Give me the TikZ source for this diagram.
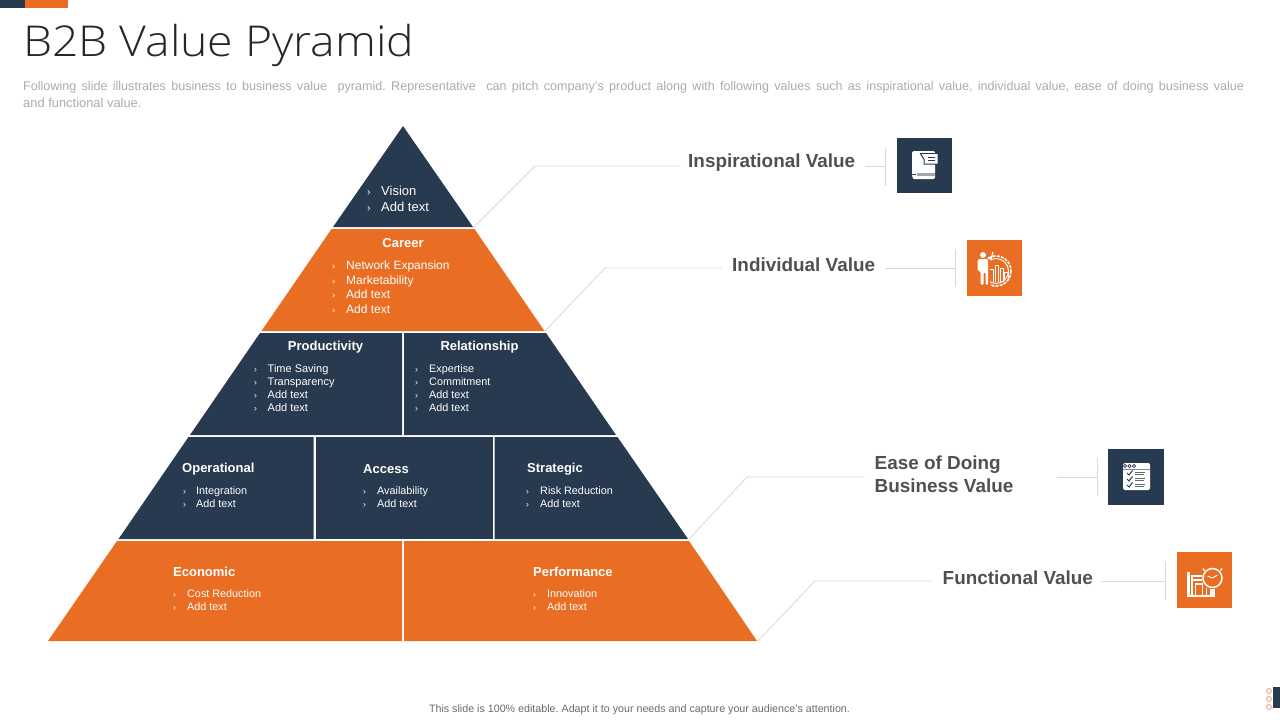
\documentclass[tikz,border=0pt]{standalone}
\usepackage{fontspec}
\setmainfont{Liberation Sans}
\newfontfamily\titlefont{Open Sans Light}
\definecolor{navy}{HTML}{283A4F}
\definecolor{orng}{HTML}{E96D22}
\definecolor{leader}{HTML}{D9D9D9}
\definecolor{subgrey}{HTML}{ABABAB}
\definecolor{valgrey}{HTML}{505050}
\tikzset{
 leaderline/.style={draw=leader,line width=0.8pt},
 head/.style={text=white,font=\fontsize{13}{15}\selectfont\bfseries,inner sep=0pt},
 bul/.style={text=white,inner sep=0pt,anchor=north west,align=left},
 valtext/.style={text=valgrey,font=\fontsize{18.9}{23}\selectfont\bfseries,inner sep=0pt,align=left},
 iconbox/.style={inner sep=0pt,minimum width=55.5pt,minimum height=55.5pt},
 icl/.style={draw=white,line width=1.1pt,fill=none}
}
\newcommand{\blist}[5]{% name, x, y, size, text
 \node[bul,font=\fontsize{#4}{#4}\selectfont] (#1) at (#2,#3) {#5};}
\newcommand{\itm}[2]{\makebox[#1pt][l]{\scalebox{.8}{›}}#2}
\begin{document}
\frenchspacing
\begin{tikzpicture}[x=1pt,y=-1pt]
\useasboundingbox (0,0) rectangle (1280,720);
\fill[navy] (0,0) rectangle (25,8);
\fill[orng] (25,0) rectangle (68,8);
\node[anchor=west,inner sep=0pt,text=black!85] (title) at (23,45) {\scalebox{1.09}[1]{\titlefont\fontsize{42.5}{48}\selectfont B2B Value Pyramid}};
\node[anchor=west,inner sep=0pt,text=subgrey,font=\fontsize{12.6}{14}\selectfont] (sub1) at (23,87) {\makebox[1221pt][s]{Following slide illustrates business to business value~ pyramid. Representative~ can pitch company’s product along with following values such as inspirational value, individual value, ease of doing business value}};
\node[anchor=west,inner sep=0pt,text=subgrey,font=\fontsize{12.9}{14}\selectfont] (sub2) at (23,102.5) {and functional value.};
% tiers
\fill[navy] (403,126) -- (473,227) -- (333,227) -- cycle;
\fill[orng] (331.5,229) -- (474.5,229) -- (544.5,331) -- (261.5,331) -- cycle;
\fill[navy] (260,333) -- (402,333) -- (402,435) -- (190,435) -- cycle;
\fill[navy] (404,333) -- (546,333) -- (616,435) -- (404,435) -- cycle;
\fill[navy] (188.5,437) -- (313.5,437) -- (313.5,539) -- (118.5,539) -- cycle;
\fill[navy] (315.5,437) -- (492.5,437) -- (492.5,539) -- (315.5,539) -- cycle;
\fill[navy] (494.5,437) -- (617.5,437) -- (688,539) -- (494.5,539) -- cycle;
\fill[orng] (117,541) -- (402,541) -- (402,641) -- (48,641) -- cycle;
\fill[orng] (404,541) -- (689,541) -- (757,641) -- (404,641) -- cycle;
% tier text
\blist{vis}{367}{185.5}{13}{\itm{14}{Vision}\\[3.2pt]\itm{14}{Add text}}
\node[head] (career) at (403,243) {Career};
\blist{car}{332}{261}{12}{\itm{14}{Network Expansion}\\[2.4pt]\itm{14}{Marketability}\\[2.4pt]\itm{14}{Add text}\\[2.6pt]\itm{14}{Add text}}
\node[head] (prod) at (325.5,347) {Productivity};
\blist{pr}{254}{364}{11}{\itm{13.5}{Time Saving}\\[2pt]\itm{13.5}{Transparency}\\[2pt]\itm{13.5}{Add text}\\[2pt]\itm{13.5}{Add text}}
\node[head] (rel) at (479.5,347) {Relationship};
\blist{re}{415}{364}{10.8}{\itm{14}{Expertise}\\[2.2pt]\itm{14}{Commitment}\\[2.2pt]\itm{14}{Add text}\\[2.2pt]\itm{14}{Add text}}
\node[head,anchor=west] (oper) at (182,469) {Operational};
\blist{op}{183}{486}{10.8}{\itm{13}{Integration}\\[2.2pt]\itm{13}{Add text}}
\node[head,anchor=west] (acc) at (363,469) {Access};
\blist{ac}{363}{486}{10.8}{\itm{14}{Availability}\\[2.2pt]\itm{14}{Add text}}
\node[head,anchor=west] (strat) at (527,469) {Strategic};
\blist{st}{526}{486}{10.8}{\itm{14}{Risk Reduction}\\[2.2pt]\itm{14}{Add text}}
\node[head,anchor=west] (econ) at (173,572) {Economic};
\blist{ec}{173}{589}{10.8}{\itm{14}{Cost Reduction}\\[2.2pt]\itm{14}{Add text}}
\node[head,anchor=west] (perf) at (533,572) {Performance};
\blist{pe}{533}{589}{10.8}{\itm{14}{Innovation}\\[2.2pt]\itm{14}{Add text}}
% value labels
\node[valtext,anchor=west] (v1) at (688,162.5) {Inspirational Value};
\node[valtext,anchor=west] (v2) at (732,264.5) {Individual Value};
\node[valtext,anchor=west] (v3) at (874.5,474) {Ease of Doing\\[0pt]Business Value};
\node[valtext,anchor=west] (v4) at (942.5,577.5) {Functional Value};
% icon boxes
\node[iconbox,fill=navy] (i1) at (924.5,165.5) {};
\node[iconbox,fill=orng] (i2) at (994.5,268) {};
\node[iconbox,fill=navy] (i3) at (1136,477) {};
\node[iconbox,fill=orng] (i4) at (1204.5,580) {};
% leaders
\coordinate (a1) at (473,228); \coordinate (b1) at (535,166); \coordinate (c1) at (680,166);
\coordinate (a2) at (545,331); \coordinate (b2) at (605,268); \coordinate (c2) at (722,268);
\coordinate (a3) at (689,539); \coordinate (b3) at (747,477); \coordinate (c3) at (864,477);
\coordinate (a4) at (758,641); \coordinate (b4) at (815,581); \coordinate (c4) at (932,581);
\draw[leaderline] (a1) -- (b1) -- (c1);
\draw[leaderline] (a2) -- (b2) -- (c2);
\draw[leaderline] (a3) -- (b3) -- (c3);
\draw[leaderline] (a4) -- (b4) -- (c4);
\coordinate (d1) at (865,166); \coordinate (e1) at (885,166); \coordinate (f1) at (885,148); \coordinate (g1) at (885,186);
\coordinate (d2) at (885,268); \coordinate (e2) at (955,268); \coordinate (f2) at (955,249); \coordinate (g2) at (955,287);
\coordinate (d3) at (1057,477); \coordinate (e3) at (1097,477); \coordinate (f3) at (1097,458); \coordinate (g3) at (1097,496);
\coordinate (d4) at (1101,581); \coordinate (e4) at (1165,581); \coordinate (f4) at (1165,562); \coordinate (g4) at (1165,600);
\foreach \n in {1,2,3,4}{\draw[leaderline] (d\n) -- (e\n); \draw[leaderline] (f\n) -- (g\n);}
% icon 1: book
\begin{scope}[shift={(i1.center)}]
\fill[white,rounded corners=1.5pt] (-12.5,-14.5) -- (10.5,-14.5) -- (10.5,13.5) -- (-9,13.5) .. controls (-12.5,13.5) and (-12.5,8) .. (-12.5,6) -- cycle;
\fill[navy!45] (-8,7) rectangle (10.5,10.5);
\fill[navy] (-8.5,9) -- (-8.5,8) -- (-12.5,8) -- (-12.5,9) -- cycle;
\fill[navy] (-5,-12.5) -- (14,-12.5) -- (14,-1) -- (-1,-1) -- (-1,-6) -- cycle;
\fill[white] (-3,-11.5) -- (13,-11.5) -- (13,-2) -- (0,-2) -- (0,-6.5) -- cycle;
\draw[navy,line width=.8pt] (3,-8.5) -- (10,-8.5) (3,-5) -- (10,-5);
\end{scope}
% icon 2: person + gear chart
\begin{scope}[shift={(i2.center)}]
\draw[white,line width=1.6pt,dash pattern=on 3pt off 1.2pt] (1.5,3) circle (15);
\draw[white,line width=.9pt] (1.5,3) circle (12.5);
\foreach \a/\b/\c in {-5/1/14,0.5/-3/14,5.5/0/14,10/4/11}{\draw[white,line width=.9pt] (\a,\c) -- (\a,\b) -- (\a+3.5,\b) -- (\a+3.5,\c);}
\fill[orng] (-19,-10) rectangle (-5,18);
\fill[white] (-11.5,-13) circle (3);
\fill[white,rounded corners=1.5pt] (-17,-9) -- (-6.5,-9) -- (-6.5,17) -- (-9,17) -- (-9,4) -- (-11,4) -- (-11,17) -- (-14,17) -- (-14,3) -- (-17,3) -- cycle;
\fill[white] (-7,-9) -- (-2.5,-9) -- (-1,-16) -- (-2.2,-16) -- (-3.5,-11) -- (-7,-11) -- cycle;
\end{scope}
% icon 3: checklist
\begin{scope}[shift={(i3.center)}]
\fill[white,rounded corners=1.5pt] (-13,-14) rectangle (14,13);
\fill[navy!60] (-13,-8.5) rectangle (14,-7.5);
\foreach \x in {-11,-6.5,-2}{\draw[navy,line width=.7pt] (\x,-11) circle (1.6);}
\foreach \y in {-4,2,8}{
 \draw[navy,line width=1pt] (-9,\y) -- (-7,\y+2) -- (-3.5,\y-2.5);
 \draw[navy!75,line width=.7pt] (-1,\y-1) -- (9,\y-1) (-1,\y+1) -- (8,\y+1);}
\end{scope}
% icon 4: plans + clock
\begin{scope}[shift={(i4.center)}]
\fill[white] (-17.5,-8) rectangle (-14.5,16);
\draw[icl] (-17.5,16) -- (10.5,16) (-12.5,-4) rectangle (2,16);
\draw[icl] (-9,4) rectangle (-2,16) (-12.5,0) -- (-1,0);
\fill[orng] (-2,-12) rectangle (18,8);
\draw[white,line width=1.6pt,dash pattern=on 2.5pt off 1.2pt] (-1.4,-11.4) arc (160:20:10);
\fill[orng] (8,-2) circle (10.5);
\draw[white,line width=1.5pt] (8,-2) circle (9.5);
\draw[white,line width=1pt] (3,-4) -- (8,-2) -- (13,-5);
\fill[white] (5.5,9) rectangle (10.5,17);
\end{scope}
% footer
\node[inner sep=0pt,text=valgrey!85,font=\fontsize{10.7}{12}\selectfont] (foot) at (639.5,710) {This slide is 100\% editable. Adapt it to your needs and capture your audience’s attention.};
\fill[navy] (1273,687) rectangle (1280,708);
\foreach \y in {691,699,707}{\draw[orng!60,line width=1pt] (1269,\y) circle (2.4);}
\end{tikzpicture}
\end{document}
